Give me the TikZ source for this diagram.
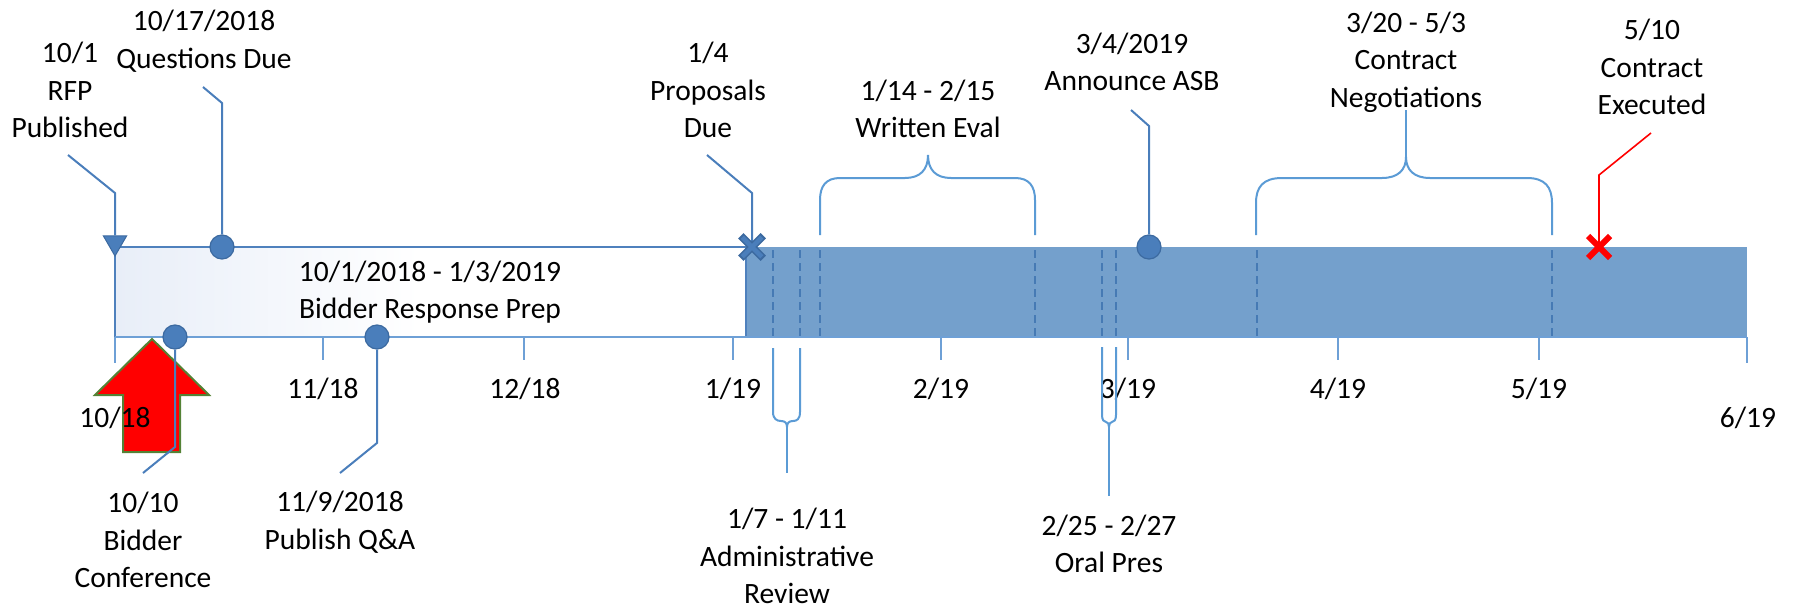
\documentclass[tikz,border=0pt]{standalone}
\usepackage{fontspec}
\setmainfont{Carlito}
\usetikzlibrary{shapes.geometric,shapes.misc}

\definecolor{leadc}{RGB}{74,126,187}
\definecolor{leaddark}{RGB}{60,106,160}
\definecolor{barfill}{RGB}{116,160,204}
\definecolor{dashc}{RGB}{70,122,180}
\definecolor{axisc}{RGB}{110,160,214}
\definecolor{bracec}{RGB}{91,155,213}
\definecolor{boxedge}{RGB}{79,129,189}
\definecolor{boxtint}{RGB}{232,238,248}
\definecolor{arrowedge}{RGB}{84,130,53}

\begin{document}
\begin{tikzpicture}[x=1pt,y=-1pt,
  lbl/.style={font=\fontsize{29.5}{37.5}\selectfont, align=center, inner sep=0pt, text=black},
  leader/.style={draw=leadc, line width=2pt},
  brace/.style={draw=bracec, line width=2pt},
  phase/.style={draw=dashc, line width=2pt, dash pattern=on 8pt off 5pt},
  tickmark/.style={draw=axisc, line width=1.3pt},
  dot/.style={circle, fill=leadc, draw=leaddark, line width=1.2pt, minimum size=24pt, inner sep=0pt},
  xmark/.style={cross out, draw=#1, line width=6pt, minimum size=16pt, inner sep=0pt}
]
\useasboundingbox (0,0) rectangle (1794,610);

% ---- timeline bar ----
\fill[white] (115,247) rectangle (746,337);
\shade[left color=boxtint, right color=white] (115,247) rectangle (420,337);
\fill[barfill] (746,247) rectangle (1747,337);
\draw[draw=boxedge, line width=2pt] (752,247) -- (115,247) -- (115,337) -- (746,337) -- (746,247);

% ---- axis and month ticks ----
\draw[tickmark] (115,337) -- (1747,337);
\foreach \x/\len in {115/363, 323/360, 524/360, 733/360, 941/360, 1128/360, 1338/360, 1539/360, 1747/363}
  \draw[tickmark] (\x,337) -- (\x,\len);

% ---- phase separators inside the bar ----
\foreach \x in {773, 800, 820, 1035, 1102, 1116, 1257, 1552}
  \draw[phase] (\x,250) -- (\x,337);

% ---- big red arrow ----
\draw[fill=red, draw=arrowedge, line width=2pt, line join=miter]
  (152,339) -- (209,395) -- (180,395) -- (180,452) -- (123,452) -- (123,395) -- (95,395) -- cycle;

% ---- month labels ----
\node[lbl] (m1) at (115,418) {10/18};
\node[lbl] (m2) at (323,389) {11/18};
\node[lbl] (m3) at (525,389) {12/18};
\node[lbl] (m4) at (733,389) {1/19};
\node[lbl] (m5) at (941,389) {2/19};
\node[lbl] (m6) at (1128,389) {3/19};
\node[lbl] (m7) at (1338,389) {4/19};
\node[lbl] (m8) at (1539,389) {5/19};
\node[lbl] (m9) at (1748,418) {6/19};

% ---- milestone markers ----
\node[regular polygon, regular polygon sides=3, shape border rotate=180,
      fill=leadc, draw=leaddark, line width=1pt, minimum size=27pt, inner sep=0pt] (rfp) at (115,242.5) {};
\node[dot] (qdue) at (222,247) {};
\node[dot] (bconf) at (175,337) {};
\node[dot] (pubqa) at (377,337) {};
\node[dot] (asb) at (1149,247) {};
\coordinate (pdue) at (752,247);
\coordinate (cexec) at (1599,247);

% ---- leader ends ----
\coordinate (rfpEnd) at (68,155);
\coordinate (qdueEnd) at (203,87);
\coordinate (bconfEnd) at (143,473);
\coordinate (pubqaEnd) at (340,473);
\coordinate (pdueEnd) at (707,155);
\coordinate (asbEnd) at (1131,110);
\coordinate (cexecEnd) at (1651,133);

\draw[leader] (rfpEnd) -- (115,193) -- (rfp.north);
\draw[leader] (qdueEnd) -- (222,103) -- (qdue.north);
\draw[leader] (bconf.south) -- (175,447) -- (bconfEnd);
\draw[leader] (pubqa.south) -- (377,443) -- (pubqaEnd);
\draw[leader] (pdueEnd) -- (752,193) -- (pdue);
\draw[leader] (asbEnd) -- (1149,126) -- (asb.north);
\draw[draw=red, line width=1.6pt] (cexecEnd) -- (1599,175) -- (cexec);

\node[xmark=leaddark, line width=7.5pt, minimum size=15pt] at (pdue) {};
\node[xmark=leadc, line width=4.5pt, minimum size=15pt] (pdueX) at (pdue) {};
\node[xmark=red] (cexecX) at (cexec) {};

% ---- braces ----
% written evaluation (above)
\draw[brace] (820,235) -- (820,200) .. controls (820,186) and (826,178) .. (840,178)
  -- (905,178) .. controls (920,178) and (928,170) .. (928,155)
  .. controls (928,170) and (936,178) .. (951,178)
  -- (1015,178) .. controls (1029,178) and (1035,186) .. (1035,200) -- (1035,235);
% contract negotiations (above)
\coordinate (negTip) at (1406,157);
\coordinate (negEnd) at (1406,110);
\draw[brace] (1256,235) -- (1256,203) .. controls (1256,187) and (1263,178) .. (1282,178)
  -- (1382,178) .. controls (1398,178) and (1406,170) .. (negTip)
  .. controls (1406,170) and (1414,178) .. (1430,178)
  -- (1527,178) .. controls (1545,178) and (1552,187) .. (1552,203) -- (1552,235);
\draw[brace] (negTip) -- (negEnd);
% administrative review (below)
\coordinate (admTip) at (787,427);
\coordinate (admEnd) at (787,473);
\draw[brace] (773,348) -- (773,412) .. controls (773,419) and (777,421) .. (781,421)
  .. controls (785,421) and (787,423) .. (admTip)
  .. controls (787,423) and (789,421) .. (793,421)
  .. controls (797,421) and (800,419) .. (800,412) -- (800,348);
\draw[brace] (admTip) -- (admEnd);
% oral presentations (below)
\coordinate (oralTip) at (1109,427);
\coordinate (oralEnd) at (1109,496);
\draw[brace] (1102,347) -- (1102,415) .. controls (1102,420) and (1104,422) .. (1106,422)
  .. controls (1108,422) and (1109,424) .. (oralTip)
  .. controls (1109,424) and (1110,422) .. (1112,422)
  .. controls (1114,422) and (1116,420) .. (1116,415) -- (1116,347);
\draw[brace] (oralTip) -- (oralEnd);

% ---- milestone and phase captions ----
\node[lbl] (tRfp)   at (70,90)    {10/1\\RFP\\Published};
\node[lbl] (tQdue)  at (204,41)   {10/17/2018\\Questions Due};
\node[lbl] (tPrep)  at (430,292)  {10/1/2018 - 1/3/2019\\Bidder Response Prep};
\node[lbl] (tBconf) at (143,540)  {10/10\\Bidder\\Conference};
\node[lbl] (tPubqa) at (340,522)  {11/9/2018\\Publish Q\&A};
\node[lbl] (tPdue)  at (708,90)   {1/4\\Proposals\\Due};
\node[lbl] (tWeval) at (928,109)  {1/14 - 2/15\\Written Eval};
\node[lbl] (tAsb)   at (1132,62)  {3/4/2019\\Announce ASB};
\node[lbl] (tNeg)   at (1406,62)  {3/20 - 5/3\\Contract\\Negotiations};
\node[lbl] (tExec)  at (1652,67)  {5/10\\Contract\\Executed};
\node[lbl] (tAdm)   at (787,556)  {1/7 - 1/11\\Administrative\\Review};
\node[lbl] (tOral)  at (1109,544) {2/25 - 2/27\\Oral Pres};
\end{tikzpicture}
\end{document}
